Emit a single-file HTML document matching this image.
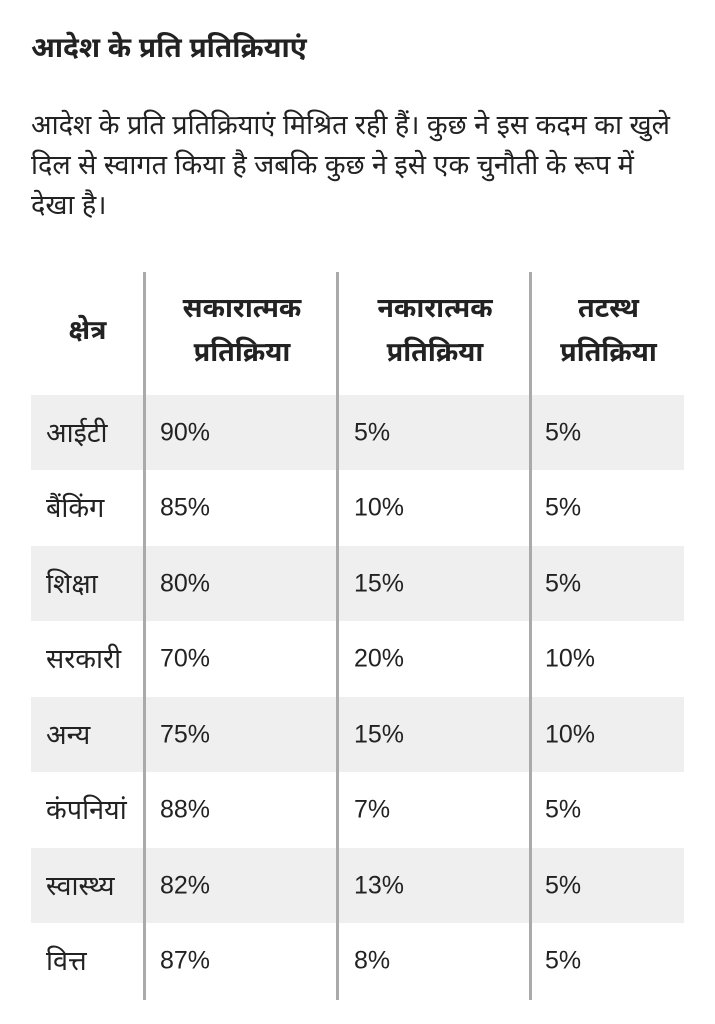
<!DOCTYPE html>
<html><head><meta charset="utf-8"><style>
body{margin:0;width:715px;height:1024px;background:#fff;font-family:"Liberation Sans","Noto Sans Devanagari","Lohit Devanagari",sans-serif;color:#222;position:relative;overflow:hidden}
h1{position:absolute;left:31px;top:30px;margin:0;font-size:28px;font-weight:bold;line-height:36px}
.p{position:absolute;left:31px;font-size:27px;line-height:40px;white-space:nowrap}
.row{position:absolute;left:31px;width:653px;height:75px}
.sh{background:#efefef}
.v{position:absolute;top:272px;height:728px;width:3px;background:#aaa}
.c{position:absolute;font-size:27px;transform:translateY(-50%);white-space:nowrap;margin-top:3px}
.n{font-size:25px;margin-top:0}
.hd{position:absolute;font-size:27px;font-weight:bold;text-align:center;line-height:44px;white-space:nowrap}
</style></head><body>
<h1>आदेश के प्रति प्रतिक्रियाएं</h1>
<div class="p" style="top:105px">आदेश के प्रति प्रतिक्रियाएं मिश्रित रही हैं। कुछ ने इस कदम का खुले<br>दिल से स्वागत किया है जबकि कुछ ने इसे एक चुनौती के रूप में<br>देखा है।</div>

<div class="row sh" style="top:395px"></div>
<div class="row sh" style="top:546px"></div>
<div class="row sh" style="top:697px"></div>
<div class="row sh" style="top:848px"></div>

<div class="hd" style="left:31px;width:113px;top:308px">क्षेत्र</div>
<div class="hd" style="left:147px;width:190px;top:286px">सकारात्मक<br>प्रतिक्रिया</div>
<div class="hd" style="left:340px;width:190px;top:286px">नकारात्मक<br>प्रतिक्रिया</div>
<div class="hd" style="left:533px;width:151px;top:286px">तटस्थ<br>प्रतिक्रिया</div>

<div class="v" style="left:143px"></div>
<div class="v" style="left:336px"></div>
<div class="v" style="left:529px"></div>

<div class="c" style="left:46px;top:433px">आईटी</div><div class="c n" style="left:160px;top:433px">90%</div><div class="c n" style="left:354px;top:433px">5%</div><div class="c n" style="left:545px;top:433px">5%</div>
<div class="c" style="left:46px;top:508px">बैंकिंग</div><div class="c n" style="left:160px;top:508px">85%</div><div class="c n" style="left:354px;top:508px">10%</div><div class="c n" style="left:545px;top:508px">5%</div>
<div class="c" style="left:46px;top:584px">शिक्षा</div><div class="c n" style="left:160px;top:584px">80%</div><div class="c n" style="left:354px;top:584px">15%</div><div class="c n" style="left:545px;top:584px">5%</div>
<div class="c" style="left:46px;top:659px">सरकारी</div><div class="c n" style="left:160px;top:659px">70%</div><div class="c n" style="left:354px;top:659px">20%</div><div class="c n" style="left:545px;top:659px">10%</div>
<div class="c" style="left:46px;top:735px">अन्य</div><div class="c n" style="left:160px;top:735px">75%</div><div class="c n" style="left:354px;top:735px">15%</div><div class="c n" style="left:545px;top:735px">10%</div>
<div class="c" style="left:46px;top:810px">कंपनियां</div><div class="c n" style="left:160px;top:810px">88%</div><div class="c n" style="left:354px;top:810px">7%</div><div class="c n" style="left:545px;top:810px">5%</div>
<div class="c" style="left:46px;top:886px">स्वास्थ्य</div><div class="c n" style="left:160px;top:886px">82%</div><div class="c n" style="left:354px;top:886px">13%</div><div class="c n" style="left:545px;top:886px">5%</div>
<div class="c" style="left:46px;top:961px">वित्त</div><div class="c n" style="left:160px;top:961px">87%</div><div class="c n" style="left:354px;top:961px">8%</div><div class="c n" style="left:545px;top:961px">5%</div>
</body></html>
